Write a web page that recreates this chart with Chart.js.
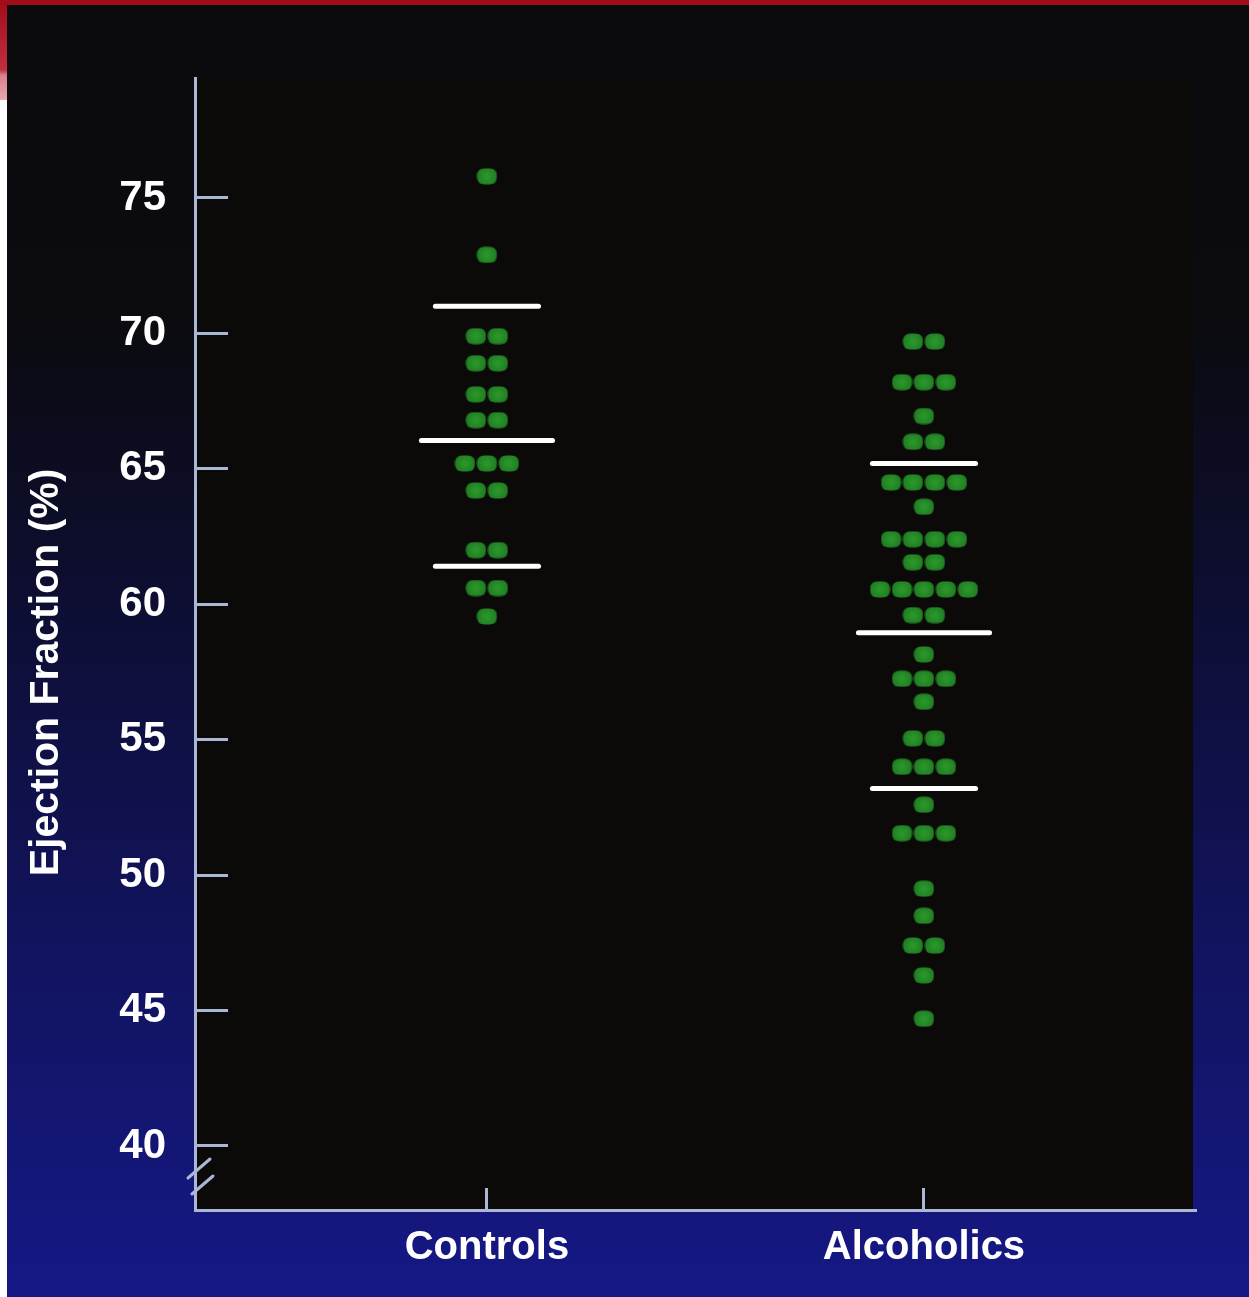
<!DOCTYPE html>
<html><head><meta charset="utf-8">
<script src="https://cdn.jsdelivr.net/npm/chart.js@4.4.1/dist/chart.umd.min.js"></script>
<style>html,body{margin:0;padding:0;background:#fff;overflow:hidden}#wrap{width:1249px;height:1297px;position:relative}canvas{display:block}</style>
</head><body><div id="wrap"><canvas id="c" width="1249" height="1297"></canvas></div>
<script>
// ---------------- data ----------------
const categories = ['Controls', 'Alcoholics'];
const controlsEF = [75.8, 72.9, 69.9, 69.9, 68.9, 68.9, 67.75, 67.75, 66.8, 66.8,
  65.2, 65.2, 65.2, 64.2, 64.2, 62.0, 62.0, 60.6, 60.6, 59.55];
const alcoholicsEF = [69.7, 69.7, 68.2, 68.2, 68.2, 66.95, 66.0, 66.0,
  64.5, 64.5, 64.5, 64.5, 63.6, 62.4, 62.4, 62.4, 62.4, 61.55, 61.55,
  60.55, 60.55, 60.55, 60.55, 60.55, 59.6, 59.6, 58.15, 57.25, 57.25, 57.25,
  56.4, 55.05, 55.05, 54.0, 54.0, 54.0, 52.6, 51.55, 51.55, 51.55,
  49.5, 48.5, 47.4, 47.4, 46.3, 44.7];
// upper (mean+SD), mean, lower (mean-SD)
const controlsStats = [71.0, 66.05, 61.4];
const alcoholicsStats = [65.2, 58.95, 53.2];
const yTickValues = [40, 45, 50, 55, 60, 65, 70, 75];
const yTitle = 'Ejection Fraction (%)';

// ---------------- styles ----------------
const AXIS_COLOR = '#aab8d6';
const DOT_STEP = 0.0503;   // horizontal spacing of side-by-side dots (x units)
const MEAN_HALF = 0.150;
const SD_HALF = 0.118;
const BASE_FONT = "'Liberation Sans', Arial, sans-serif";

// dot image
const dot = document.createElement('canvas');
dot.width = 21; dot.height = 17;
(function(){
  const g = dot.getContext('2d');
  const w = 20, h = 16, r = 7.5, x0 = 0.5, y0 = 0.5;
  g.beginPath();
  g.moveTo(x0 + r, y0); g.lineTo(x0 + w - r, y0); g.quadraticCurveTo(x0 + w, y0, x0 + w, y0 + r);
  g.lineTo(x0 + w, y0 + h - r); g.quadraticCurveTo(x0 + w, y0 + h, x0 + w - r, y0 + h);
  g.lineTo(x0 + r, y0 + h); g.quadraticCurveTo(x0, y0 + h, x0, y0 + h - r);
  g.lineTo(x0, y0 + r); g.quadraticCurveTo(x0, y0, x0 + r, y0);
  g.closePath();
  const grd = g.createRadialGradient(10.5, 8.5, 2, 10.5, 8.5, 11);
  grd.addColorStop(0, '#2a952a');
  grd.addColorStop(1, '#1f7a22');
  g.fillStyle = grd; g.fill();
})();

function spread(values, center) {
  const counts = {}, seen = {};
  values.forEach(v => { counts[v] = (counts[v] || 0) + 1; });
  return values.map(v => {
    seen[v] = seen[v] === undefined ? 0 : seen[v] + 1;
    return { x: center + (seen[v] - (counts[v] - 1) / 2) * DOT_STEP, y: v };
  });
}
function statLines(stats, center) {
  return stats.map((v, k) => {
    const hw = k === 1 ? MEAN_HALF : SD_HALF;
    return {
      type: 'line', data: [{ x: center - hw, y: v }, { x: center + hw, y: v }],
      borderColor: '#ffffff', borderWidth: 5, borderCapStyle: 'round',
      pointRadius: 0, showLine: true, order: 0
    };
  });
}

const bgPlugin = {
  id: 'bg',
  beforeDraw(chart) {
    const { ctx, width, height, chartArea: a } = chart;
    ctx.save();
    const g = ctx.createLinearGradient(0, 0, 0, height);
    g.addColorStop(0, '#0b0b0d');
    g.addColorStop(0.25, '#0b0b10');
    g.addColorStop(0.45, '#0d0e30');
    g.addColorStop(0.7, '#11135a');
    g.addColorStop(1, '#161886');
    ctx.fillStyle = g; ctx.fillRect(0, 0, width, height);
    ctx.fillStyle = '#0b0a09';
    ctx.fillRect(a.left, a.top, a.right - a.left - 3, a.bottom - a.top);
    // slide frame
    ctx.fillStyle = '#ffffff'; ctx.fillRect(0, 0, 7, height);
    const r = ctx.createLinearGradient(0, 0, 0, 100);
    r.addColorStop(0, '#a30a1c'); r.addColorStop(0.7, '#c0303f'); r.addColorStop(0.75, '#d8808a'); r.addColorStop(1, '#e8a8b0');
    ctx.fillStyle = r; ctx.fillRect(0, 0, 7, 100);
    ctx.fillStyle = '#a30a1a'; ctx.fillRect(0, 0, width, 5);
    ctx.restore();
  },
  afterDraw(chart) {
    const { ctx, chartArea: a } = chart;
    ctx.save();
    ctx.strokeStyle = AXIS_COLOR; ctx.lineWidth = 3; ctx.lineCap = 'round';
    ctx.beginPath();
    ctx.moveTo(a.left - 7, a.bottom - 32); ctx.lineTo(a.left + 15, a.bottom - 51);
    ctx.moveTo(a.left - 3, a.bottom - 16); ctx.lineTo(a.left + 18, a.bottom - 34);
    ctx.stroke();
    ctx.restore();
  }
};

const datasets = [
  { type: 'scatter', data: spread(controlsEF, 1), pointStyle: dot, pointRadius: 9, order: 1 },
  { type: 'scatter', data: spread(alcoholicsEF, 2), pointStyle: dot, pointRadius: 9, order: 1 },
  ...statLines(controlsStats, 1),
  ...statLines(alcoholicsStats, 2)
];

new Chart(document.getElementById('c'), {
  type: 'scatter',
  data: { datasets },
  options: {
    responsive: false, animation: false,
    layout: { padding: { top: 78, right: 53, left: 0, bottom: 0 } },
    plugins: { legend: { display: false }, tooltip: { enabled: false } },
    scales: {
      x: {
        type: 'linear', min: 0.332, max: 2.6224,
        afterFit: s => { s.height = 87; s.paddingLeft = 0; s.paddingRight = 0; },
        afterBuildTicks: s => { s.ticks = categories.map((c, i) => ({ value: i + 1 })); },
        ticks: { callback: v => categories[v - 1], color: '#ffffff', padding: 36, maxRotation: 0,
          font: { family: BASE_FONT, size: 40, weight: 'bold' } },
        grid: { drawOnChartArea: false, tickLength: -22, tickColor: AXIS_COLOR, tickWidth: 3 },
        border: { color: AXIS_COLOR, width: 3 }
      },
      y: {
        type: 'linear', min: 37.637, max: 79.43,
        afterFit: s => { s.width = 195; s.paddingTop = 0; s.paddingBottom = 0; },
        afterBuildTicks: s => { s.ticks = yTickValues.map(v => ({ value: v })); },
        ticks: { color: '#ffffff', padding: 62, font: { family: BASE_FONT, size: 42, weight: 'bold' } },
        grid: { drawOnChartArea: false, tickLength: -33, tickColor: AXIS_COLOR, tickWidth: 3 },
        border: { color: AXIS_COLOR, width: 3 },
        title: { display: true, text: yTitle + '     ', color: '#ffffff', padding: { top: 22, bottom: 0 },
          font: { family: BASE_FONT, size: 41, weight: 'bold' } }
      }
    }
  },
  plugins: [bgPlugin]
});
</script>
</body></html>
